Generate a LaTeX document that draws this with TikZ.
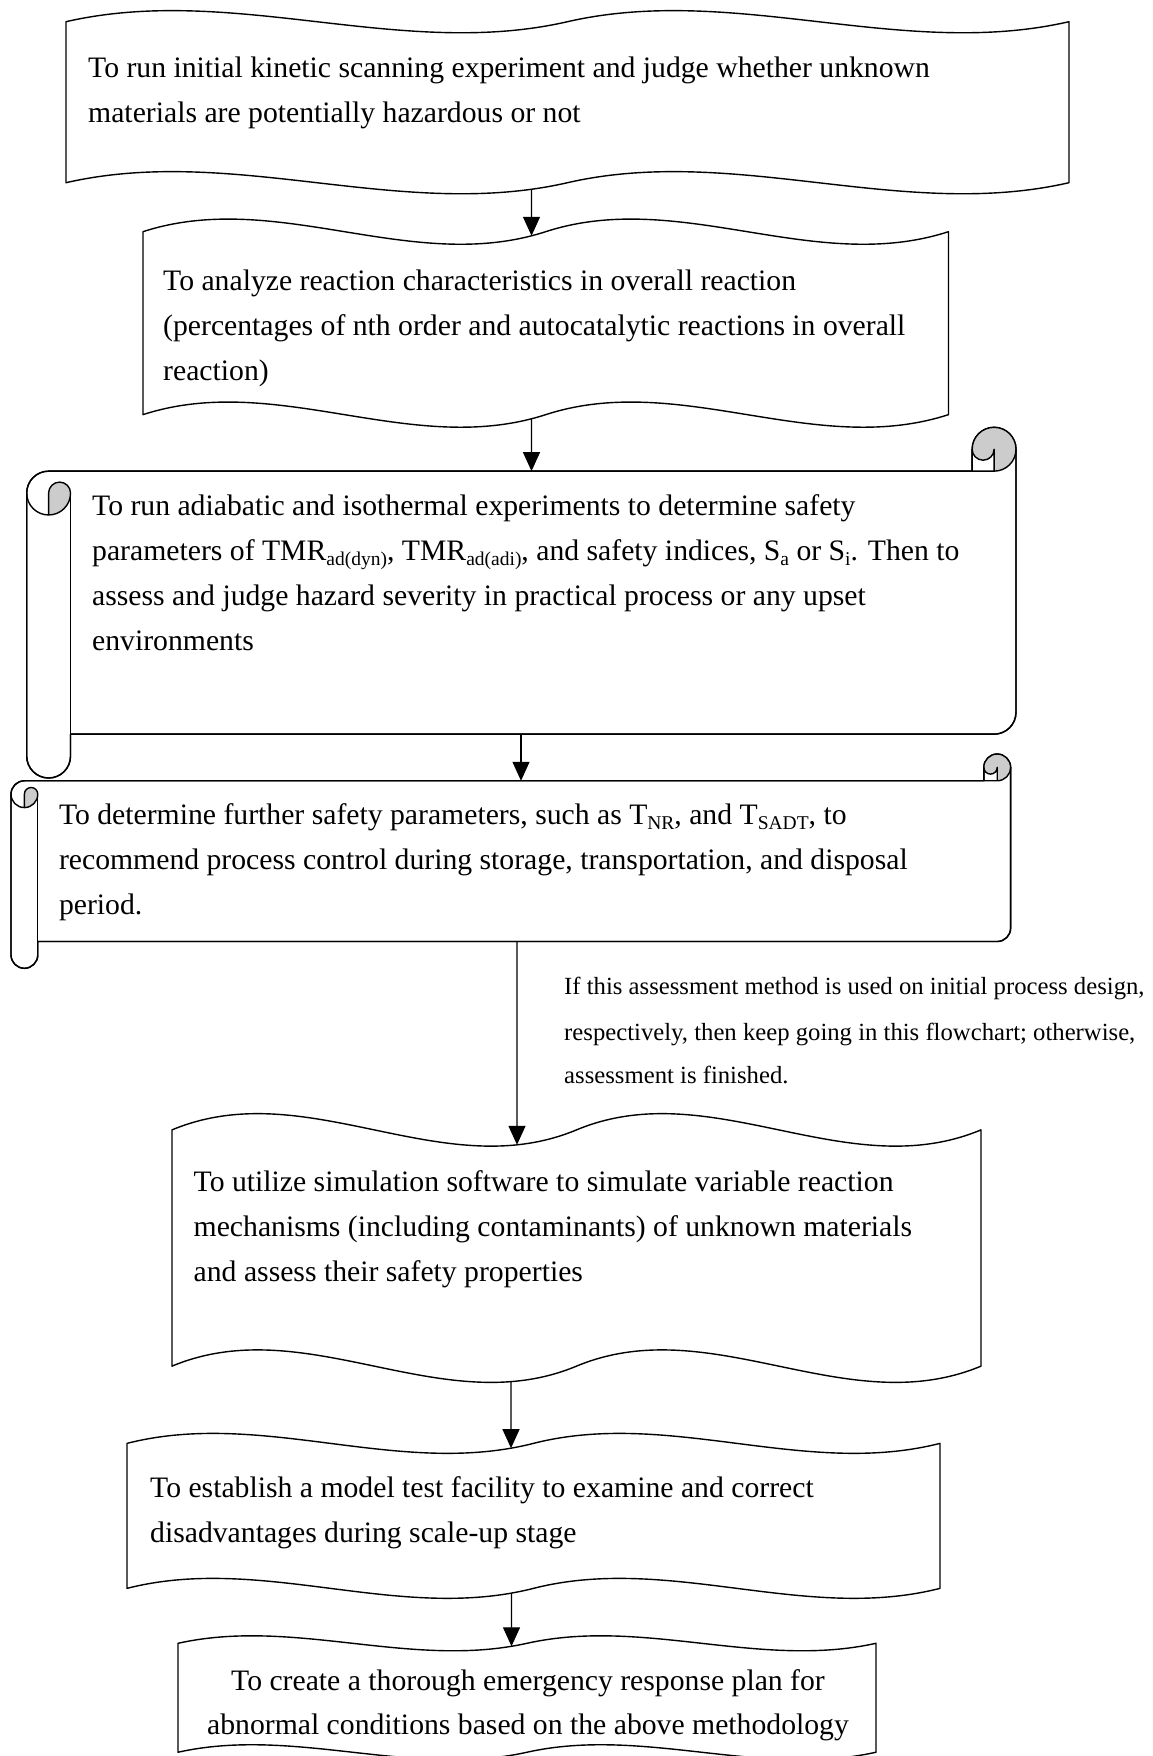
\documentclass[tikz,border=0pt]{standalone}
\usepackage{fontspec}
\setmainfont{Liberation Serif}
\usetikzlibrary{arrows.meta,intersections}
\definecolor{rollgray}{RGB}{204,204,204}
\newcommand\bodyfont{\fontsize{29.7pt}{44.8pt}\selectfont}
\newcommand\sidefont{\fontsize{24.7pt}{42pt}\selectfont}
\newcommand\sbs[1]{\raisebox{-5.5pt}{\fontsize{19.5pt}{20pt}\selectfont #1}}
% double wave shape: #1 name, #2 L, #3 R, #4 T, #5 B
\newcommand\dwave[5]{%
  \pgfmathsetmacro\dwH{#5-#4}%
  \pgfmathsetmacro\dwYa{#4+0.0625*\dwH}%
  \pgfmathsetmacro\dwYb{#5-0.0625*\dwH}%
  \pgfmathsetmacro\dwD{0.2083333*\dwH}%
  \pgfmathsetmacro\dwW{#3-#2}%
  \pgfmathsetmacro\dwXa{#2+\dwW/6}%
  \pgfmathsetmacro\dwXb{#2+\dwW/3}%
  \pgfmathsetmacro\dwXc{#2+\dwW/2}%
  \pgfmathsetmacro\dwXd{#2+2*\dwW/3}%
  \pgfmathsetmacro\dwXe{#2+5*\dwW/6}%
  \pgfmathsetmacro\dwUa{\dwYa-\dwD}%
  \pgfmathsetmacro\dwDa{\dwYa+\dwD}%
  \pgfmathsetmacro\dwUb{\dwYb-\dwD}%
  \pgfmathsetmacro\dwDb{\dwYb+\dwD}%
  \draw[shapeline, fill=white] (#2,\dwYa) .. controls (\dwXa,\dwUa) and (\dwXb,\dwDa) .. (\dwXc,\dwYa)
     .. controls (\dwXd,\dwUa) and (\dwXe,\dwDa) .. (#3,\dwYa) -- (#3,\dwYb)
     .. controls (\dwXe,\dwDb) and (\dwXd,\dwUb) .. (\dwXc,\dwYb)
     .. controls (\dwXb,\dwDb) and (\dwXa,\dwUb) .. (#2,\dwYb) -- cycle;
  \path[name path=#1top] (#2,\dwYa) .. controls (\dwXa,\dwUa) and (\dwXb,\dwDa) .. (\dwXc,\dwYa)
     .. controls (\dwXd,\dwUa) and (\dwXe,\dwDa) .. (#3,\dwYa);
  \path[name path=#1bot] (#2,\dwYb) .. controls (\dwXa,\dwUb) and (\dwXb,\dwDb) .. (\dwXc,\dwYb)
     .. controls (\dwXd,\dwUb) and (\dwXe,\dwDb) .. (#3,\dwYb);
}
% horizontal scroll: #1 name, #2 l, #3 r, #4 t, #5 b
\newcommand\hscroll[5]{%
  \pgfmathsetmacro\hsC{0.125*(#5-#4)}%
  \pgfmathsetmacro\hsCh{\hsC/2}%
  \pgfmathsetmacro\hsCq{\hsC/4}%
  \pgfmathsetmacro\hsXa{#2+\hsCh}%
  \pgfmathsetmacro\hsXb{#2+\hsC}%
  \pgfmathsetmacro\hsXc{#3-\hsC}%
  \pgfmathsetmacro\hsXd{#3-\hsCh}%
  \pgfmathsetmacro\hsYa{#4+\hsCh}%
  \pgfmathsetmacro\hsYb{#4+\hsC}%
  \pgfmathsetmacro\hsYc{#4+1.5*\hsC}%
  \pgfmathsetmacro\hsYd{#4+2*\hsC}%
  \pgfmathsetmacro\hsYe{#5-1.5*\hsC}%
  \pgfmathsetmacro\hsYf{#5-\hsC}%
  \pgfmathsetmacro\hsYg{#5-\hsCh}%
  \draw[shapeline, fill=white] (#2,\hsYc) arc[start angle=180, delta angle=-90, radius=\hsCh pt]
     -- (\hsXc,\hsYb) -- (\hsXc,\hsYa) arc[start angle=180, delta angle=-180, radius=\hsCh pt]
     -- (#3,\hsYe) arc[start angle=0, delta angle=-90, radius=\hsCh pt]
     -- (\hsXb,\hsYf) -- (\hsXb,\hsYg) arc[start angle=0, delta angle=-180, radius=\hsCh pt] -- cycle;
  \fill[rollgray] (\hsXa,\hsYd) arc[start angle=-90, delta angle=90, radius=\hsCh pt]
     arc[start angle=0, delta angle=180, radius=\hsCq pt] -- cycle;
  \fill[rollgray] (\hsXd,\hsYb) arc[start angle=-90, delta angle=270, radius=\hsCh pt]
     arc[start angle=180, delta angle=180, radius=\hsCq pt] -- cycle;
  \draw[shapeline] (#2,\hsYc) arc[start angle=180, delta angle=-90, radius=\hsCh pt]
     -- (\hsXc,\hsYb) -- (\hsXc,\hsYa) arc[start angle=180, delta angle=-180, radius=\hsCh pt]
     -- (#3,\hsYe) arc[start angle=0, delta angle=-90, radius=\hsCh pt]
     -- (\hsXb,\hsYf) -- (\hsXb,\hsYg) arc[start angle=0, delta angle=-180, radius=\hsCh pt] -- cycle;
  \draw[shapeline] (\hsXc,\hsYb) -- (\hsXd,\hsYb) arc[start angle=-90, delta angle=90, radius=\hsCh pt];
  \draw[shapeline] (\hsXd,\hsYb) -- (\hsXd,\hsYa) arc[start angle=0, delta angle=-180, radius=\hsCq pt];
  \draw[shapeline] (\hsXa,\hsYd) -- (\hsXa,\hsYc) arc[start angle=180, delta angle=-180, radius=\hsCq pt]
     arc[start angle=0, delta angle=-180, radius=\hsCh pt];
  \draw[shapeline] (\hsXb,\hsYc) -- (\hsXb,\hsYf);
  \path[name path=#1top] (\hsXa,\hsYb) -- (\hsXd,\hsYb);
  \path[name path=#1bot] (\hsXb,\hsYf) -- (\hsXd,\hsYf);
}
\begin{document}
\begin{tikzpicture}[x=1pt,y=-1pt,
  shapeline/.style={draw=black, line width=1.4pt, line join=round},
  conn/.style={draw=black, line width=1.3pt, -{Triangle[length=19pt,width=17pt]}},
  txt/.style={anchor=base west, inner sep=0pt, font=\bodyfont},
  ctxt/.style={anchor=base, inner sep=0pt, font=\bodyfont},
  stxt/.style={anchor=base west, inner sep=0pt, font=\sidefont}]
\useasboundingbox (0,0) rectangle (1153,1756);
\clip (0,0) rectangle (1153,1756);
\fill[white] (0,0) rectangle (1153,1756);

% shapes
\dwave{bA}{66}{1069}{10.2}{194.2}
\dwave{bB}{143}{948.5}{218.6}{427.7}
\hscroll{sC}{26.7}{1016}{427.3}{778}
\hscroll{sD}{11}{1010.6}{754}{968.3}
\dwave{bE}{172}{981}{1113}{1383}
\dwave{bF}{127}{940}{1433}{1598.7}
\dwave{bG}{178}{876}{1635.5}{1760}

% texts
\node[txt] (tA1) at (88,77.7) {To run initial kinetic scanning experiment and judge whether unknown};
\node[txt] (tA2) at (88,122.5) {materials are potentially hazardous or not};

\node[txt] (tB1) at (163,290) {To analyze reaction characteristics in overall reaction};
\node[txt] (tB2) at (163,335) {(percentages of nth order and autocatalytic reactions in overall};
\node[txt] (tB3) at (163,380) {reaction)};

\node[txt] (tC1) at (92,515) {To run adiabatic and isothermal experiments to determine safety};
\node[txt] (tC2) at (92,560) {parameters of TMR\sbs{ad(dyn)}, TMR\sbs{ad(adi)}, and safety indices, S\sbs{a} or S\sbs{i}. Then to};
\node[txt] (tC3) at (92,605) {assess and judge hazard severity in practical process or any upset};
\node[txt] (tC4) at (92,650) {environments};

\node[txt] (tD1) at (58.8,824) {To determine further safety parameters, such as T\sbs{NR}, and T\sbs{SADT}, to};
\node[txt] (tD2) at (58.8,869) {recommend process control during storage, transportation, and disposal};
\node[txt] (tD3) at (58.8,914) {period.};

\node[stxt] (s1) at (564,994) {If this assessment method is used on initial process design,};
\node[stxt] (s2) at (564,1040) {respectively, then keep going in this flowchart; otherwise,};
\node[stxt] (s3) at (564,1083) {assessment is finished.};

\node[txt] (tE1) at (193.5,1191) {To utilize simulation software to simulate variable reaction};
\node[txt] (tE2) at (193.5,1236) {mechanisms (including contaminants) of unknown materials};
\node[txt] (tE3) at (193.5,1281) {and assess their safety properties};

\node[txt] (tF1) at (150,1497) {To establish a model test facility to examine and correct};
\node[txt] (tF2) at (150,1542) {disadvantages during scale-up stage};

\node[ctxt] (tG1) at (528,1690) {To create a thorough emergency response plan for};
\node[ctxt] (tG2) at (528,1734) {abnormal conditions based on the above methodology};

% connectors
\path[name path=vA] (531.5,100) -- (531.5,300);
\path[name intersections={of=vA and bAbot, by=pAs}];
\path[name intersections={of=vA and bBtop, by=pAe}];
\draw[conn] (pAs) -- (pAe);

\path[name path=vB] (531.5,300) -- (531.5,500);
\path[name intersections={of=vB and bBbot, by=pBs}];
\path[name intersections={of=vB and sCtop, by=pBe}];
\draw[conn] (pBs) -- (pBe);

\path[name path=vC] (521,700) -- (521,800);
\path[name intersections={of=vC and sCbot, by=pCs}];
\path[name intersections={of=vC and sDtop, by=pCe}];
\draw[conn] (pCs) -- (pCe);

\path[name path=vD] (517,900) -- (517,1200);
\path[name intersections={of=vD and sDbot, by=pDs}];
\path[name intersections={of=vD and bEtop, by=pDe}];
\draw[conn] (pDs) -- (pDe);

\path[name path=vE] (511,1300) -- (511,1500);
\path[name intersections={of=vE and bEbot, by=pEs}];
\path[name intersections={of=vE and bFtop, by=pEe}];
\draw[conn] (pEs) -- (pEe);

\path[name path=vF] (511.5,1550) -- (511.5,1700);
\path[name intersections={of=vF and bFbot, by=pFs}];
\path[name intersections={of=vF and bGtop, by=pFe}];
\draw[conn] (pFs) -- (pFe);
\end{tikzpicture}
\end{document}
